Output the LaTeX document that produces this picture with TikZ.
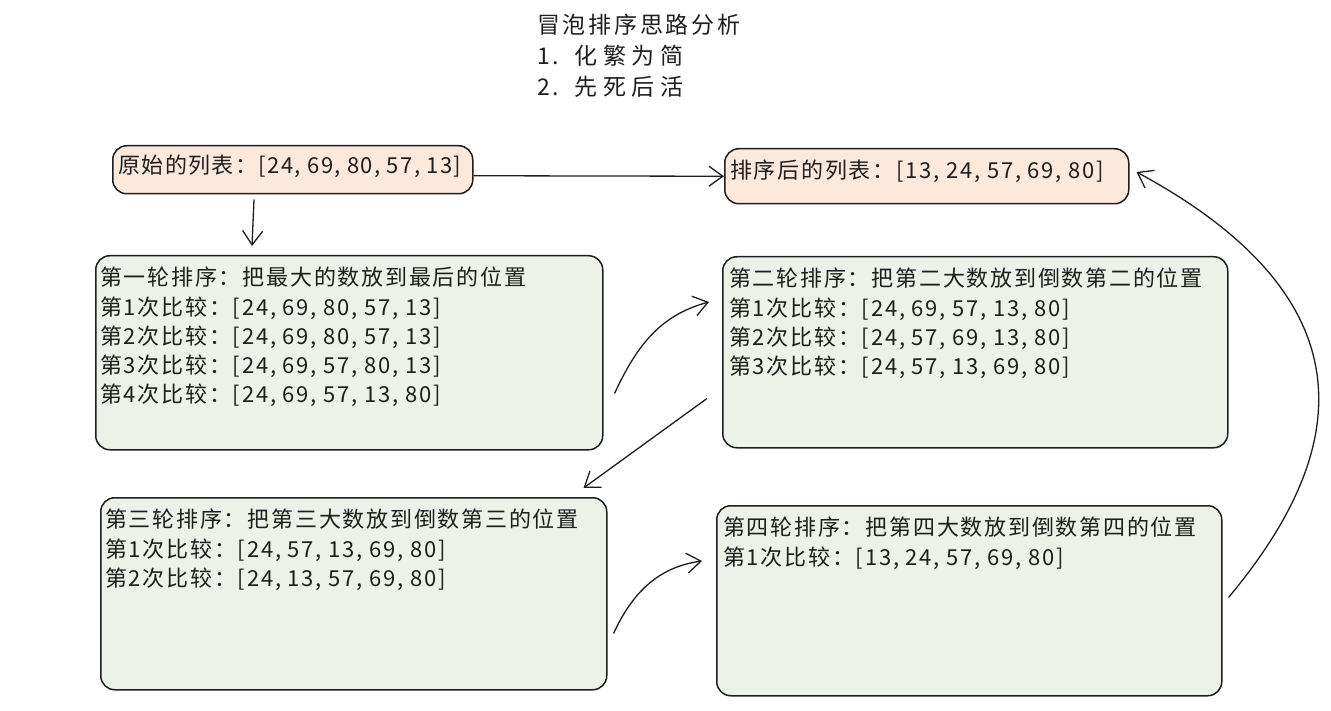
\documentclass[tikz,border=0pt]{standalone}
\usepackage{fontspec}
\setmainfont{Noto Sans CJK SC}
\usetikzlibrary{arrows.meta,calc}
\definecolor{peach}{RGB}{253,233,220}
\definecolor{sage}{RGB}{236,242,231}
\definecolor{ink}{RGB}{30,30,30}
\newcommand{\wideset}{\addfontfeatures{LetterSpace=24}}
\tikzset{
  roundbox/.style={draw=ink, line width=1.5pt, rounded corners=14pt, inner sep=0pt, anchor=north west},
  peachbox/.style={roundbox, fill=peach},
  sagebox/.style={roundbox, fill=sage},
  boxtext/.style={inner sep=0pt, align=left, text=ink, font=\fontsize{22}{29.2}\selectfont\addfontfeatures{LetterSpace=8}},
  titletext/.style={inner sep=0pt, align=left, text=ink, font=\fontsize{23}{31}\selectfont\addfontfeatures{LetterSpace=12}},
  conn/.style={draw=ink, line width=1.3pt, -{Straight Barb[length=14pt,width=20pt,line width=1.3pt]}}
}
\begin{document}
\begin{tikzpicture}[x=1pt,y=-1pt]
\useasboundingbox (0,0) rectangle (1331,711);
% title
\node[titletext, anchor=north west] (title) at (537,14) {冒泡排序思路分析\\1.\ \ {\wideset 化繁为简}\\2.\ \ {\wideset 先死后活}};
% boxes
\node[peachbox, minimum width=360pt, minimum height=48pt] (A) at (112,145) {};
\node[peachbox, minimum width=404pt, minimum height=55pt] (B) at (724,148) {};
\node[sagebox, minimum width=507pt, minimum height=194pt] (R1) at (95,255) {};
\node[sagebox, minimum width=505pt, minimum height=191pt] (R2) at (722,256) {};
\node[sagebox, minimum width=506pt, minimum height=192pt] (R3) at (100,497) {};
\node[sagebox, minimum width=505pt, minimum height=190pt] (R4) at (716,505) {};
% texts
\node[boxtext, anchor=west, font=\fontsize{22}{29.2}\selectfont\addfontfeatures{LetterSpace=6.5}] (At) at ($(A.west)+(6,-3)$) {原始的列表：[24, 69, 80, 57, 13]};
\node[boxtext, anchor=west] (Bt) at ($(B.west)+(6,-5)$) {排序后的列表：[13, 24, 57, 69, 80]};
\node[boxtext, anchor=north west] (R1t) at ($(R1.north west)+(5,12)$) {第一轮排序：把最大的数放到最后的位置\\第1次比较：[24, 69, 80, 57, 13]\\第2次比较：[24, 69, 80, 57, 13]\\第3次比较：[24, 69, 57, 80, 13]\\第4次比较：[24, 69, 57, 13, 80]};
\node[boxtext, anchor=north west] (R2t) at ($(R2.north west)+(7,12)$) {第二轮排序：把第二大数放到倒数第二的位置\\第1次比较：[24, 69, 57, 13, 80]\\第2次比较：[24, 57, 69, 13, 80]\\第3次比较：[24, 57, 13, 69, 80]};
\node[boxtext, anchor=north west] (R3t) at ($(R3.north west)+(5,12)$) {第三轮排序：把第三大数放到倒数第三的位置\\第1次比较：[24, 57, 13, 69, 80]\\第2次比较：[24, 13, 57, 69, 80]};
\node[boxtext, anchor=north west] (R4t) at ($(R4.north west)+(7,12)$) {第四轮排序：把第四大数放到倒数第四的位置\\第1次比较：[13, 24, 57, 69, 80]};
% connector end points
\coordinate (a0) at ($(A.east)+(0,6)$);
\coordinate (a1) at ($(A.south west)+(142,5)$);
\coordinate (a2) at ($(R1.north west)+(157,-9)$);
\coordinate (c1s) at ($(R1.south east)+(11,-57)$);
\coordinate (c1e) at ($(R2.north west)+(-13,46)$);
\coordinate (c2s) at ($(R2.south west)+(-15,-50)$);
\coordinate (c2e) at ($(R3.north east)+(-24,-9)$);
\coordinate (c3s) at ($(R3.south east)+(6,-57)$);
\coordinate (c3e) at ($(R4.north west)+(-14,56)$);
\coordinate (c4s) at ($(R4.south east)+(6,-99)$);
\coordinate (c4e) at ($(B.north east)+(7,24)$);
% connectors
\draw[conn] (a0) -- (B.west);
\draw[conn] (a1) -- (a2);
\draw[conn] (c1s) to[out=65,in=195] (c1e);
\draw[conn] (c2s) -- (c2e);
\draw[conn] (c3s) to[out=65,in=188] (c3e);
\draw[conn] (c4s) .. controls (1335,470) and (1392,310) .. (c4e);
\end{tikzpicture}
\end{document}
